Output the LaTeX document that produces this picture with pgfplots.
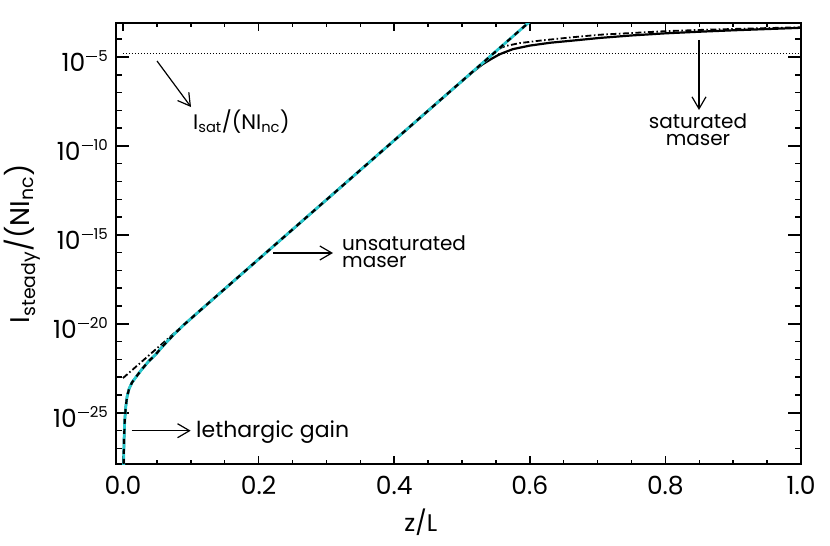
\documentclass[border=0pt]{standalone}
\usepackage{fontspec}
\setmainfont{Poppins}
\usepackage{pgfplots}
\pgfplotsset{compat=1.18}
\usetikzlibrary{arrows.meta}

\definecolor{idlcyan}{RGB}{40,200,205}
\newcommand{\ttl}[1]{10\raisebox{10pt}{\fontsize{15}{15}\selectfont\kern1pt\rule[4pt]{11pt}{1.6pt}\kern1pt#1}}
\tikzset{ann/.style={-{Straight Barb[length=12pt,width=14pt,line width=1.2pt]},line width=1.2pt}}

\begin{document}
\begin{tikzpicture}
\begin{axis}[
  scale only axis, width=685pt, height=441pt,
  clip mode=individual,
  xmin=-0.0103, xmax=1,
  ymode=log, ymin=1.318e-28, ymax=8.128e-4,
  axis line style={line width=1.8pt},
  xtick={0,0.2,0.4,0.6,0.8,1}, xticklabels={0.0,0.2,0.4,0.6,0.8,1.0},
  minor xtick={0.05,0.1,0.15,0.25,0.3,0.35,0.45,0.5,0.55,0.65,0.7,0.75,0.85,0.9,0.95},
  ytick={1e-25,1e-20,1e-15,1e-10,1e-5},
  yticklabels={\ttl{25},\ttl{20},\ttl{15},\ttl{10},\ttl{5}},
  minor ytick={1e-27,1e-26,1e-24,1e-23,1e-22,1e-21,1e-19,1e-18,1e-17,1e-16,1e-14,1e-13,1e-12,1e-11,1e-9,1e-8,1e-7,1e-6,1e-4},
  tick align=inside, tick style={line width=1.5pt,black},
  major tick length=13pt, minor tick length=6.5pt,
  xtick style={/pgfplots/major tick length=8pt,/pgfplots/minor tick length=4pt},
  ticklabel style={font=\fontsize{25}{25}\selectfont},
  xticklabel style={inner sep=0pt,anchor=north,yshift=-12pt},
  yticklabel style={inner sep=0pt,anchor=east,xshift=-8pt,yshift=-4pt},
]
% I_sat level
\addplot[black,line width=1.3pt,dash pattern=on 1.2pt off 1.8pt] coordinates {(0,1.549e-5) (1,1.549e-5)};
% full solution
\addplot[black,line width=2.2pt] coordinates {
(0.0005,1e-29)(0.001,1.585e-28)(0.0015,2.512e-27)(0.0025,3.162e-26)(0.004,1.995e-25)
(0.006,7.943e-25)(0.009,2.239e-24)(0.0133,5.012e-24)(0.02,1.122e-23)(0.028,2.818e-23)
(0.038,7.943e-23)(0.0476,1.778e-22)(0.06,6.310e-22)(0.075,2.512e-21)(0.09,8.913e-21)
(0.12,9.12e-20)(0.3,9.33e-14)(0.45,9.55e-9)(0.49,2.042e-7)(0.515,1.349e-6)(0.53,3.802e-6)
(0.545,8.511e-6)(0.556,1.445e-5)(0.575,2.754e-5)(0.6,4.365e-5)(0.63,6.310e-5)(0.663,8.318e-5)
(0.703,1.175e-4)(0.75,1.622e-4)(0.8,2.138e-4)(0.85,2.630e-4)(0.9,3.162e-4)(0.95,3.715e-4)(1.0,4.365e-4)};
% no lethargic gain
\addplot[black,line width=1.8pt,dash pattern=on 6pt off 2.5pt on 1.5pt off 2.5pt] coordinates {
(0,8.913e-24)(0.3,9.33e-14)(0.545,1.413e-5)(0.5512,2.291e-5)(0.558,3.388e-5)(0.566,4.266e-5)
(0.585,6.026e-5)(0.615,8.318e-5)(0.663,1.288e-4)(0.703,1.778e-4)(0.8,2.818e-4)(0.85,3.311e-4)
(0.924,3.981e-4)(1.0,4.677e-4)};
% unsaturated
\addplot[idlcyan,line width=2.8pt] coordinates {
(0.0005,1e-29)(0.001,1.585e-28)(0.0015,2.512e-27)(0.0025,3.162e-26)(0.004,1.995e-25)
(0.006,7.943e-25)(0.009,2.239e-24)(0.0133,5.012e-24)(0.02,1.122e-23)(0.028,2.818e-23)
(0.038,7.943e-23)(0.0476,1.778e-22)(0.06,6.310e-22)(0.075,2.512e-21)(0.09,8.913e-21)
(0.12,9.12e-20)(0.3,9.33e-14)(0.6,9.77e-4)};
\addplot[black,line width=2.2pt,dash pattern=on 5pt off 5pt] coordinates {
(0.0005,1e-29)(0.001,1.585e-28)(0.0015,2.512e-27)(0.0025,3.162e-26)(0.004,1.995e-25)
(0.006,7.943e-25)(0.009,2.239e-24)(0.0133,5.012e-24)(0.02,1.122e-23)(0.028,2.818e-23)
(0.038,7.943e-23)(0.0476,1.778e-22)(0.06,6.310e-22)(0.075,2.512e-21)(0.09,8.913e-21)
(0.12,9.12e-20)(0.3,9.33e-14)(0.6,9.77e-4)};

% annotations
\draw[ann] (rel axis cs:0.0599,0.9138) -- (rel axis cs:0.1095,0.8095);
\node[anchor=base west,inner sep=0pt,font=\fontsize{21}{21}\selectfont] at (rel axis cs:0.1124,0.7596) {I\textsubscript{sat}/(NI\textsubscript{nc})};
\draw[ann] (rel axis cs:0.8511,0.9615) -- (rel axis cs:0.8511,0.8027);
\node[anchor=base,inner sep=0pt,align=center,font=\fontsize{20}{17}\selectfont] at (rel axis cs:0.8496,0.7233) {saturated\\maser};
\draw[ann] (rel axis cs:0.2292,0.4785) -- (rel axis cs:0.3168,0.4785);
\node[anchor=base west,inner sep=0pt,align=left,font=\fontsize{20}{17}\selectfont] at (rel axis cs:0.3299,0.4466) {unsaturated\\maser};
\draw[ann] (rel axis cs:0.0229,0.0755) -- (rel axis cs:0.1091,0.0755);
\node[anchor=base west,inner sep=0pt,font=\fontsize{22}{22}\selectfont] at (rel axis cs:0.1168,0.0612) {lethargic gain};

% axis labels
\node[rotate=90,font=\fontsize{27}{27}\selectfont] at (rel axis cs:-0.137,0.499) {I\textsubscript{steady}/(NI\textsubscript{nc})};
\node[font=\fontsize{24}{24}\selectfont] at (rel axis cs:0.445,-0.1315) {z/L};

\coordinate (bbl) at (rel axis cs:-0.16934,-0.18594);
\coordinate (bbr) at (rel axis cs:1.04234,1.05215);
\end{axis}
\pgfresetboundingbox
\path (bbl) rectangle (bbr);
\end{tikzpicture}
\end{document}
